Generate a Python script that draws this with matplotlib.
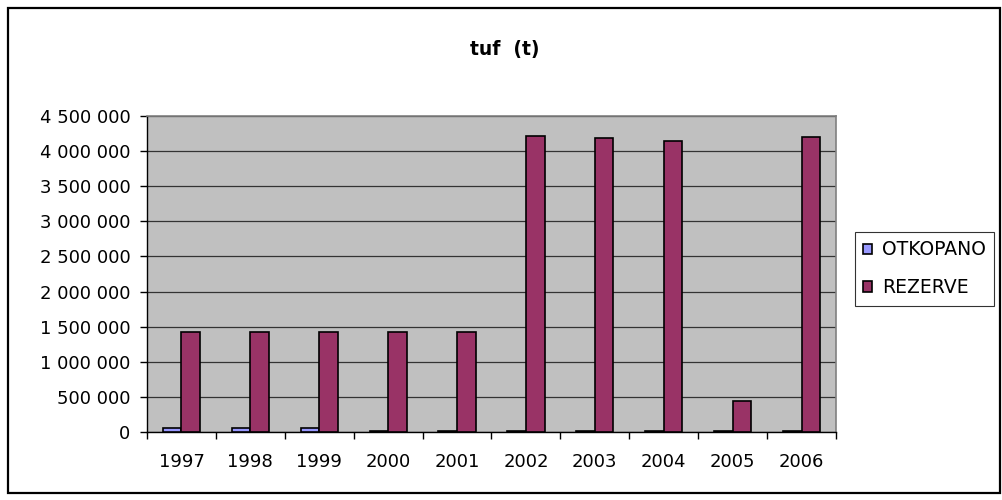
import matplotlib
matplotlib.use('Agg')
import matplotlib.pyplot as plt
import numpy as np
from matplotlib.patches import Rectangle
from matplotlib.ticker import FuncFormatter, FixedLocator

years = ['1997', '1998', '1999', '2000', '2001', '2002', '2003', '2004', '2005', '2006']
otkopano = [50000, 50000, 50000, 20000, 20000, 20000, 20000, 20000, 20000, 20000]
rezerve = [1420000, 1420000, 1420000, 1420000, 1420000, 4210000, 4180000, 4140000, 440000, 4205000]

plt.rcParams['font.family'] = ['DejaVu Sans']


def main():
    fig = plt.figure(figsize=(10.03, 5.0), dpi=100)
    # plot area in pixels: x 147-836, y 116-432
    ax = fig.add_axes([147 / 1003, 1 - 432 / 500, 689 / 1003, 316 / 500])
    ax.set_facecolor('#C0C0C0')

    x = np.arange(len(years))
    w = 0.27
    ax.bar(x - w / 2, otkopano, w, color='#9999FF', edgecolor='black', linewidth=1.2,
           label='OTKOPANO', zorder=3)
    ax.bar(x + w / 2, rezerve, w, color='#993366', edgecolor='black', linewidth=1.2,
           label='REZERVE', zorder=3)

    ax.set_xlim(-0.5, len(years) - 0.5)
    ax.set_ylim(0, 4500000)
    ax.set_yticks(np.arange(0, 4500001, 500000))
    ax.yaxis.set_major_formatter(FuncFormatter(lambda v, p: f'{int(v):,}'.replace(',', ' ')))
    ax.grid(axis='y', color='#333333', linewidth=0.9, zorder=1)

    ax.set_xticks(x)
    ax.set_xticklabels(years)
    ax.xaxis.set_minor_locator(FixedLocator(np.arange(-0.5, len(years), 1.0)))
    ax.tick_params(axis='x', which='major', length=0, pad=15, labelsize=13)
    ax.tick_params(axis='x', which='minor', length=5, width=1, color='black', direction='out')
    ax.tick_params(axis='y', length=5, width=1, pad=7, labelsize=13, direction='out')

    for side in ['top', 'right']:
        ax.spines[side].set_color('#808080')
        ax.spines[side].set_linewidth(1.2)
    for side in ['left', 'bottom']:
        ax.spines[side].set_color('black')
        ax.spines[side].set_linewidth(1)

    fig.text(505 / 1003, 1 - 50 / 500, 'tuf  (t)', ha='center', va='center',
             fontsize=13.5, fontweight='bold')

    leg = fig.legend(loc='upper left', bbox_to_anchor=(855 / 1003, 1 - 232 / 500),
                     frameon=True, fancybox=False, fontsize=13.5, handlelength=0.45,
                     handleheight=0.45, handletextpad=0.55, labelspacing=1.0,
                     borderpad=0.45, borderaxespad=0)
    leg.get_frame().set_edgecolor('black')
    leg.get_frame().set_linewidth(0.8)

    fig.patches.append(Rectangle((8 / 1003, 7 / 500), 992 / 1003, 485 / 500,
                                 transform=fig.transFigure, fill=False,
                                 edgecolor='black', linewidth=1.6))

    fig.savefig('out.png', dpi=100)


if __name__ == '__main__':
    main()
